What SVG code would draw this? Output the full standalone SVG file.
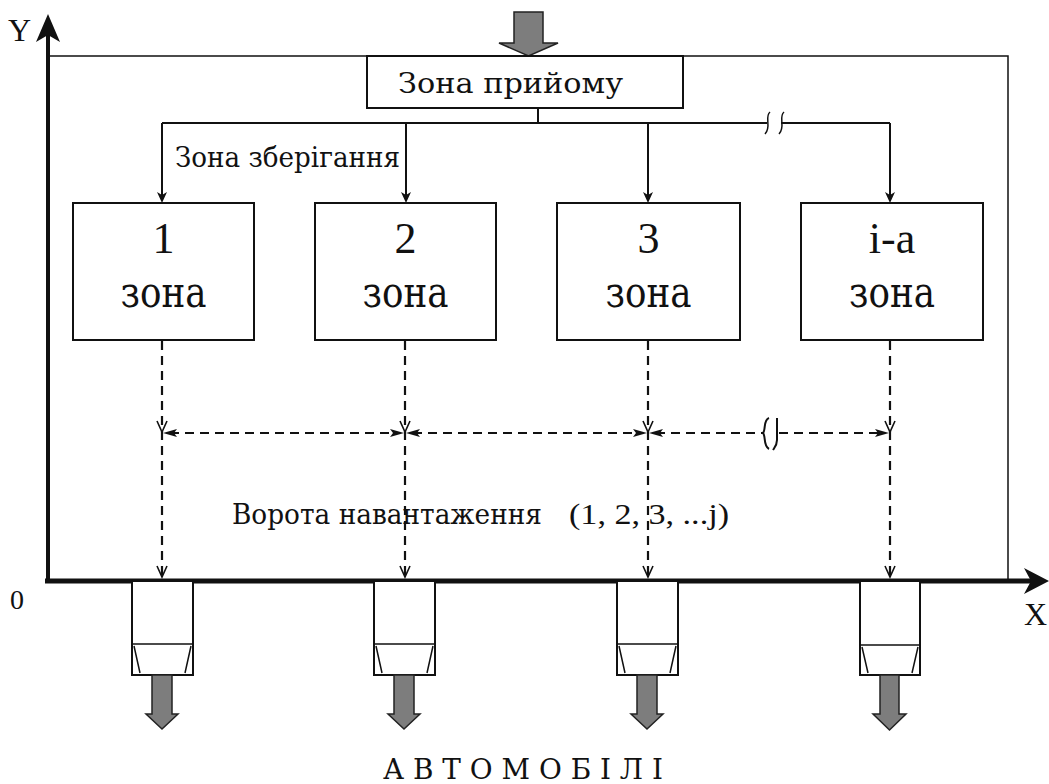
<svg xmlns="http://www.w3.org/2000/svg" width="1049" height="784" viewBox="0 0 1049 784">
  <style>
    .ln { stroke: #111; stroke-width: 2; fill: none; }
    .thin { stroke: #111; stroke-width: 1.5; fill: none; }
    .dash { stroke: #111; stroke-width: 2.2; fill: none; stroke-dasharray: 9 6; }
    .box { fill: #fff; stroke: #111; stroke-width: 2; }
    .gray { fill: #7d7d7d; stroke: #222; stroke-width: 1.5; }
    .t { font-family: "Liberation Serif", "Times New Roman", serif; fill: #111; }
    .c { font-family: "DejaVu Serif", serif; fill: #111; }
    .ah { fill: #111; }
    .open { stroke: #111; stroke-width: 1.6; fill: none; }
  </style>

  <rect width="1049" height="784" fill="#fff"/>

  <!-- outer building contour -->
  <g id="frame">
    <path class="thin" d="M48,56 H1008 V580"/>
  </g>

  <!-- coordinate axes -->
  <g id="axes">
    <line x1="48" y1="583" x2="48" y2="32" stroke="#111" stroke-width="4"/>
    <path class="ah" d="M48,14 L60,42 L48,35 L36,42 Z"/>
    <line x1="45" y1="581" x2="1034" y2="581" stroke="#111" stroke-width="5"/>
    <path class="ah" d="M1049,581 L1024,568 L1031,581 L1024,594 Z"/>
    <text class="t" x="8" y="41" font-size="32">Y</text>
    <text class="t" x="1024" y="625" font-size="32">X</text>
    <text class="t" x="10" y="609" font-size="28">0</text>
  </g>

  <!-- incoming flow -->
  <g id="inflow">
    <path class="gray" d="M514,12 H543 V43 H558 L528.5,56 L499,43 H514 Z"/>
  </g>

  <!-- receiving zone -->
  <g id="receiving">
    <rect class="box" x="367" y="56" width="316" height="52"/>
    <text class="c" x="398" y="93" font-size="27" textLength="225" lengthAdjust="spacingAndGlyphs">Зона прийому</text>
  </g>

  <!-- storage zones -->
  <g id="zone1">
    <rect class="box" x="73" y="203" width="181" height="137"/>
    <text class="t" x="163.5" y="253" font-size="44" text-anchor="middle">1</text>
    <text class="c" x="120.5" y="307" font-size="42" textLength="86" lengthAdjust="spacingAndGlyphs">зона</text>
  </g>
  <g id="zone2">
    <rect class="box" x="315" y="203" width="181" height="137"/>
    <text class="t" x="405.5" y="253" font-size="44" text-anchor="middle">2</text>
    <text class="c" x="362.5" y="307" font-size="42" textLength="86" lengthAdjust="spacingAndGlyphs">зона</text>
  </g>
  <g id="zone3">
    <rect class="box" x="557" y="203" width="183" height="137"/>
    <text class="t" x="648.5" y="253" font-size="44" text-anchor="middle">3</text>
    <text class="c" x="605.5" y="307" font-size="42" textLength="86" lengthAdjust="spacingAndGlyphs">зона</text>
  </g>
  <g id="zone-i">
    <rect class="box" x="801" y="203" width="182" height="137"/>
    <text class="t" x="892" y="253" font-size="44" text-anchor="middle">i-a</text>
    <text class="c" x="849" y="307" font-size="42" textLength="86" lengthAdjust="spacingAndGlyphs">зона</text>
  </g>

  <!-- labels -->
  <g id="labels">
    <text class="c" x="175" y="167" font-size="28" textLength="225" lengthAdjust="spacingAndGlyphs">Зона зберігання</text>
    <text class="c" x="232" y="524" font-size="28" textLength="310" lengthAdjust="spacingAndGlyphs">Ворота навантаження</text>
    <text class="t" x="569" y="524" font-size="30" textLength="160" lengthAdjust="spacingAndGlyphs">(1, 2, 3, ...j)</text>
    <text class="c" x="383" y="779" font-size="27" textLength="280" lengthAdjust="spacingAndGlyphs">А В Т О М О Б І Л І</text>
  </g>

  <!-- connectors -->
  <g id="connectors">
    <!-- distribution from receiving zone -->
    <path class="ln" d="M538,108 V123"/>
    <path class="ln" d="M162,123 H767 M781,123 H890"/>
    <path class="thin" d="M770,112 C764,117 772,127 765,134"/>
    <path class="thin" d="M784,112 C778,117 786,127 779,134"/>
    <path class="ln" d="M162,123 V196 M406,123 V196 M648,123 V196 M890,123 V196"/>
    <path class="ah" d="M162,203 L157,192 L162,195 L167,192 Z"/>
    <path class="ah" d="M406,203 L401,192 L406,195 L411,192 Z"/>
    <path class="ah" d="M648,203 L643,192 L648,195 L653,192 Z"/>
    <path class="ah" d="M890,203 L885,192 L890,195 L895,192 Z"/>

    <!-- picking flows from zones to gates -->
    <path class="dash" d="M162,341 V578 M405,341 V578 M648,341 V578 M890,341 V578"/>
    <path class="open" d="M157,421 L162,432 L167,421 M400,421 L405,432 L410,421 M643,421 L648,432 L653,421 M885,421 L890,432 L895,421"/>
    <path class="open" d="M157,566 L162,577 L167,566 M400,566 L405,577 L410,566 M643,566 L648,577 L653,566 M885,566 L890,577 L895,566"/>

    <!-- transfers between zones -->
    <path class="dash" d="M170,433 H396 M413,433 H639 M656,433 H763 M779,433 H881"/>
    <path class="ah" d="M163,433 L177,429 L174,433 L177,437 Z"/>
    <path class="ah" d="M404,433 L390,429 L393,433 L390,437 Z"/>
    <path class="ah" d="M406,433 L420,429 L417,433 L420,437 Z"/>
    <path class="ah" d="M647,433 L633,429 L636,433 L633,437 Z"/>
    <path class="ah" d="M649,433 L663,429 L660,433 L663,437 Z"/>
    <path class="ah" d="M889,433 L875,429 L878,433 L875,437 Z"/>
    <path class="ln" d="M769,418 C763,420 766,430 763,433 C766,436 763,446 769,449"/>
    <path class="ln" d="M777,418 V440 C777,445 775,447 773,450"/>
  </g>

  <!-- loading gates -->
  <g id="gate1">
    <rect class="box" x="132" y="581" width="61" height="94"/>
    <path class="thin" d="M132,644 H193 M134,646 L140,673 M191,646 L185,673"/>
    <path class="gray" d="M152,675 H172 V714 H178 L162,729 L146,714 H152 Z"/>
  </g>
  <g id="gate2">
    <rect class="box" x="374" y="581" width="61" height="94"/>
    <path class="thin" d="M374,644 H435 M376,646 L382,673 M433,646 L427,673"/>
    <path class="gray" d="M394,675 H414 V714 H420 L404,729 L388,714 H394 Z"/>
  </g>
  <g id="gate3">
    <rect class="box" x="617" y="581" width="61" height="94"/>
    <path class="thin" d="M617,644 H678 M619,646 L625,673 M676,646 L670,673"/>
    <path class="gray" d="M637,675 H657 V714 H663 L647,729 L631,714 H637 Z"/>
  </g>
  <g id="gate-j">
    <rect class="box" x="860" y="581" width="60" height="94"/>
    <path class="thin" d="M860,645 H920 M862,647 L868,673 M918,647 L912,673"/>
    <path class="gray" d="M880,675 H899 V714 H906 L889.5,730 L873,714 H880 Z"/>
  </g>
</svg>
